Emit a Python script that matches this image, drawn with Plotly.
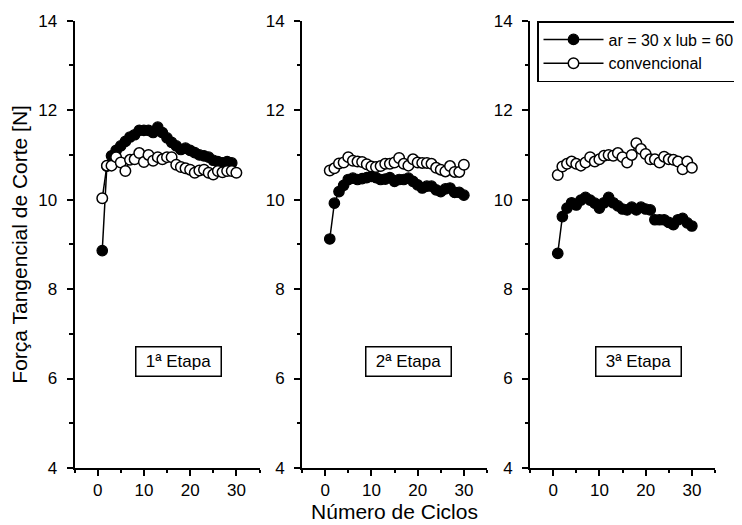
import plotly.graph_objects as go

# ---- data ----
ciclos = list(range(1, 31))

etapa1_ar = [8.86, 10.75, 10.98, 11.1, 11.2, 11.3, 11.4, 11.45, 11.55, 11.55,
             11.55, 11.5, 11.62, 11.5, 11.38, 11.28, 11.2, 11.12, 11.15, 11.1,
             11.05, 11.0, 10.98, 10.95, 10.88, 10.85, 10.82, 10.85, 10.82]
etapa1_conv = [10.03, 10.76, 10.76, 10.95, 10.83, 10.64, 10.89, 10.9, 11.04, 10.84,
               11.0, 10.87, 10.95, 10.9, 10.95, 10.95, 10.78, 10.73, 10.7, 10.67,
               10.6, 10.65, 10.67, 10.6, 10.56, 10.64, 10.61, 10.64, 10.64, 10.6]

etapa2_ar = [9.12, 9.92, 10.18, 10.32, 10.45, 10.48, 10.45, 10.47, 10.49, 10.52,
             10.49, 10.45, 10.46, 10.49, 10.41, 10.45, 10.45, 10.48, 10.41, 10.33,
             10.26, 10.3, 10.3, 10.22, 10.18, 10.24, 10.26, 10.16, 10.16, 10.1]
etapa2_conv = [10.65, 10.7, 10.81, 10.83, 10.95, 10.87, 10.85, 10.84, 10.79, 10.74,
               10.73, 10.75, 10.8, 10.8, 10.83, 10.93, 10.8, 10.76, 10.9, 10.83,
               10.82, 10.82, 10.8, 10.71, 10.67, 10.63, 10.75, 10.62, 10.62, 10.78]

etapa3_ar = [8.8, 9.62, 9.81, 9.93, 9.88, 9.99, 10.05, 9.99, 9.92, 9.81,
             9.93, 10.05, 9.93, 9.86, 9.79, 9.77, 9.83, 9.77, 9.83, 9.79,
             9.77, 9.55, 9.55, 9.55, 9.49, 9.44, 9.55, 9.58, 9.48, 9.41]
etapa3_conv = [10.55, 10.74, 10.8, 10.85, 10.8, 10.76, 10.83, 10.95, 10.85, 10.9,
               10.98, 11.0, 10.98, 11.04, 10.95, 10.83, 11.0, 11.26, 11.13, 11.02,
               10.9, 10.9, 10.83, 10.96, 10.9, 10.89, 10.85, 10.68, 10.85, 10.71]

nome_ar = "ar = 30 x lub = 60"
nome_conv = "convencional"
etapas = ["1ª Etapa", "2ª Etapa", "3ª Etapa"]

y_ticks = [4, 6, 8, 10, 12, 14]
x_ticks = [0, 10, 20, 30]

FONT = "Liberation Sans, Arial, sans-serif"

# page body has an 8px default margin: size the figure so it fits the window
OFF = 8
W, H = 742 - OFF, 525 - OFF


def px_x(p):
    return (p - OFF) / W


def px_y(p):
    return 1 - (p - OFF) / H


fig = go.Figure()

series = [(etapa1_ar, etapa1_conv), (etapa2_ar, etapa2_conv), (etapa3_ar, etapa3_conv)]
for i, (ar, conv) in enumerate(series):
    xa = "x" if i == 0 else f"x{i+1}"
    ya = "y" if i == 0 else f"y{i+1}"
    fig.add_trace(go.Scatter(
        x=ciclos[:len(ar)], y=ar, mode="lines+markers", name=nome_ar,
        xaxis=xa, yaxis=ya, showlegend=(i == 2), legendrank=1,
        line=dict(color="black", width=1.5),
        marker=dict(symbol="circle", size=10.5, color="black",
                    line=dict(color="black", width=1.2)),
    ))
    fig.add_trace(go.Scatter(
        x=ciclos[:len(conv)], y=conv, mode="lines+markers", name=nome_conv,
        xaxis=xa, yaxis=ya, showlegend=(i == 2), legendrank=2,
        line=dict(color="black", width=1.5),
        marker=dict(symbol="circle", size=10.5, color="white",
                    line=dict(color="black", width=1.5)),
    ))

x_domains = [[px_x(74.5), px_x(259.5)], [px_x(302), px_x(487)], [px_x(530), px_x(715)]]
y_domain = [px_y(468), px_y(20.7)]

axis_common = dict(
    showline=True, linecolor="black", linewidth=1.8, mirror=False,
    showgrid=False, zeroline=False, ticks="outside", ticklen=6, tickwidth=1.8,
    tickcolor="black", tickfont=dict(family=FONT, size=17, color="black"),
    automargin=False,
)

layout = dict(
    template="none",
    width=W, height=H,
    margin=dict(l=0, r=0, t=0, b=0, pad=0),
    paper_bgcolor="white", plot_bgcolor="white",
    font=dict(family=FONT, color="black"),
    showlegend=True,
    legend=dict(
        x=px_x(537), y=px_y(21), xanchor="left", yanchor="top",
        bordercolor="black", borderwidth=1.5, bgcolor="white",
        font=dict(family=FONT, size=16, color="black"),
        tracegroupgap=0, itemwidth=60,
    ),
)

for i in range(3):
    sx = "" if i == 0 else str(i + 1)
    xa = dict(axis_common, domain=x_domains[i], range=[-5, 35],
              tickvals=x_ticks, anchor="y" + sx,
              minor=dict(dtick=5, tick0=-5, ticks="outside", ticklen=3.5,
                         tickwidth=1.8, tickcolor="black"))
    ya = dict(axis_common, domain=y_domain, range=[4, 14],
              tickvals=y_ticks, anchor="x" + sx, ticklabelstandoff=6,
              minor=dict(dtick=1, tick0=4, ticks="outside", ticklen=3.5,
                         tickwidth=1.8, tickcolor="black"))
    if i == 1:
        xa["title"] = dict(text="Número de Ciclos", font=dict(family=FONT, size=21),
                           standoff=1)
    if i == 0:
        ya["title"] = dict(text="Força Tangencial de Corte [N]",
                           font=dict(family=FONT, size=21), standoff=9)
    layout["xaxis" + sx] = xa
    layout["yaxis" + sx] = ya

fig.update_layout(**layout)

box_x = [17.5, 18.0, 18.5]
for i, txt in enumerate(etapas):
    sx = "" if i == 0 else str(i + 1)
    fig.add_annotation(
        x=box_x[i], y=6.38, xref="x" + sx, yref="y" + sx, text=txt,
        showarrow=False, font=dict(family=FONT, size=17, color="black"),
        bordercolor="black", borderwidth=1.5, borderpad=2,
        width=80, height=24, bgcolor="white",
    )

fig.write_html("out.html")
